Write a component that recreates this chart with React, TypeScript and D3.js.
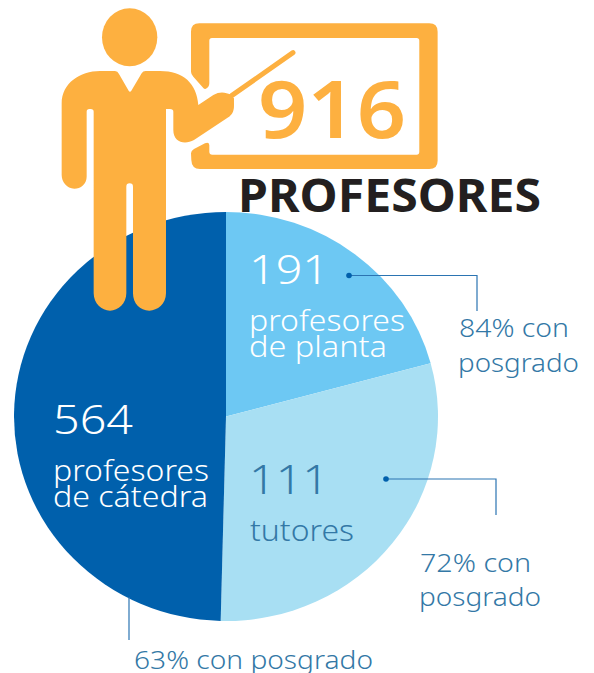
import React from "react";
import * as d3 from "d3";

// Counts printed on the chart
const categories = ["profesores de planta", "tutores", "profesores de cátedra"];
const counts = [191, 111, 564];
const total = 916;
// Slice shares (%): the drawn angles, not the counts
const sliceShares = [20.8, 29.6, 49.6];
const colors = ["#6DC8F3", "#A8DFF3", "#0060AC"];
const postgradLabels = ["84% con", "72% con", "63% con posgrado"];

const W = 594, H = 673;
const cx = 226, cy = 416.5, rx = 212, ry = 204.5;
const FONT = "'Noto Sans', sans-serif";
const ORANGE = "#FDB040";
const TXT = "#3378A6";
const LINE = "#2B74B2";

const FIGURE = `M207 222 L236 272 Q240 279 244 272 L275 220 Q279 213 287 213 L330 213 C400 213 440 250 445 315
L490 285 C510 272 530 278 540 283 L552 295 L552 318 C552 335 545 345 535 352 L432 420 C405 435 370 428 370 390
L370 335 Q370 327 360 327 L348 327 L348 880 C348 912 322 932 298 932 C270 932 249 910 249 880 L249 560 Q249 550 239 550
Q229 550 229 560 L229 880 C229 910 205 932 180 932 C155 932 131 910 131 880 L131 335 Q131 327 122 327 L118 327 Q110 327 110 335
L110 530 C110 552 92 566 73 566 C50 566 35 545 35 525 L35 310 C35 250 90 213 150 213 L195 213 Q203 213 207 222 Z`;

const BOARD = `M423 215 L423 95 Q423 70 448 70 L1138 70 Q1163 70 1163 95 L1163 482 Q1163 507 1138 507 L450 507 Q425 507 424 480
L423 460 Q423 452 432 447 L465 430 Q477 425 478 435 L478 455 Q478 464 487 464 L1100 464 Q1108 464 1108 455 L1108 122 Q1108 114 1100 114
L486 114 Q478 114 478 122 L478 250 Q478 262 466 267 Q462 268 458 262 L430 230 Q423 222 423 215 Z`;

function Label(p: { x: number; y: number; w: number; size: number; fill: string; children: React.ReactNode }) {
  return (
    <text x={p.x} y={p.y} fontSize={p.size} fill={p.fill} textLength={p.w} lengthAdjust="spacingAndGlyphs">
      {p.children}
    </text>
  );
}

export default function App() {
  const pie = d3.pie<number>().sort(null).value((d) => d);
  const arc = d3.arc<d3.PieArcDatum<number>>().innerRadius(0).outerRadius(rx);
  const slices = pie(sliceShares);
  return (
    <svg width={W} height={H} viewBox={`0 0 ${W} ${H}`} style={{ position: "absolute", left: 0, top: 0, background: "#fff" }}>
      <g transform={`translate(${cx},${cy}) scale(1,${ry / rx})`}>
        {slices.map((s, i) => (
          <path key={categories[i]} d={arc(s) ?? ""} fill={colors[i]} />
        ))}
      </g>

      <g transform="translate(50,0) scale(0.3333)" fill={ORANGE}>
        <ellipse cx={239} cy={112} rx={83} ry={87} />
        <path d={FIGURE} />
        <path d={BOARD} />
        <line x1={545} y1={287} x2={729} y2={158} stroke={ORANGE} strokeWidth={15} strokeLinecap="round" />
      </g>

      <text x={258} y={138} fontFamily={FONT} fontWeight={600} fontSize={80} fill={ORANGE} textLength={148} lengthAdjust="spacingAndGlyphs">{total}</text>
      <text x={238} y={212} fontFamily={FONT} fontWeight={700} fontSize={46} fill="#231F20" textLength={303} lengthAdjust="spacingAndGlyphs">PROFESORES</text>

      <g fontFamily={FONT} fontWeight={300}>
        <Label x={249} y={284} w={80} size={40} fill="#fff">{counts[0]}</Label>
        <Label x={249} y={331} w={156} size={28.5} fill="#fff">profesores</Label>
        <Label x={249} y={357} w={138} size={28.5} fill="#fff">de planta</Label>

        <Label x={249} y={494} w={80} size={40} fill={TXT}>{counts[1]}</Label>
        <Label x={250} y={541} w={104} size={28.5} fill={TXT}>tutores</Label>

        <Label x={53} y={434} w={80} size={40} fill="#fff">{counts[2]}</Label>
        <Label x={53} y={481} w={156} size={28.5} fill="#fff">profesores</Label>
        <Label x={53} y={507} w={155} size={28.5} fill="#fff">de cátedra</Label>

        <Label x={459} y={337} w={110} size={26} fill={TXT}>{postgradLabels[0]}</Label>
        <Label x={458} y={372} w={121} size={26} fill={TXT}>posgrado</Label>
        <Label x={420} y={572} w={111} size={26} fill={TXT}>{postgradLabels[1]}</Label>
        <Label x={419} y={606} w={122} size={26} fill={TXT}>posgrado</Label>
        <Label x={134} y={669} w={239} size={26} fill={TXT}>{postgradLabels[2]}</Label>
      </g>

      <g fill="none" stroke={LINE} strokeWidth={1.2}>
        <path d="M349 275.5 H477 V311" />
        <path d="M386 479 H496 V515" />
        <path d="M129 597 V640" />
      </g>
      <circle cx={349} cy={275.5} r={2.8} fill="#0060AC" />
      <circle cx={386} cy={479} r={2.8} fill="#0060AC" />
    </svg>
  );
}
